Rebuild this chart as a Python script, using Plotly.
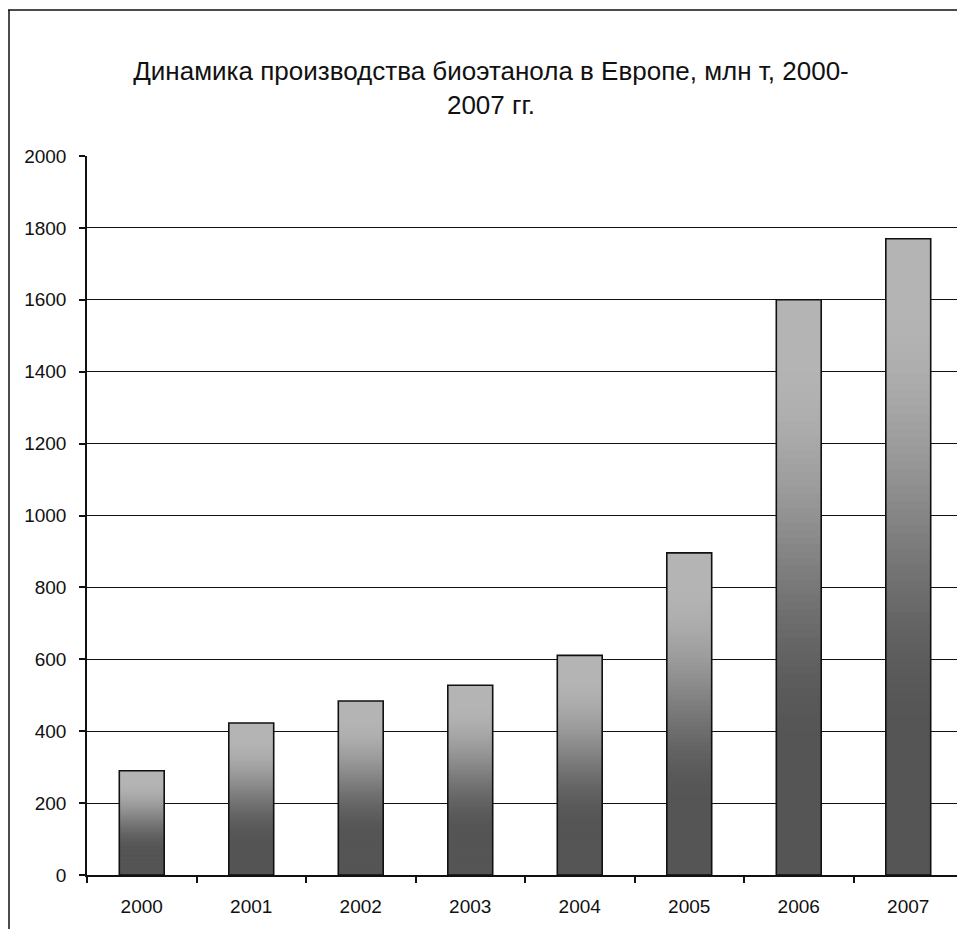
import plotly.graph_objects as go

years = ["2000", "2001", "2002", "2003", "2004", "2005", "2006", "2007"]
values = [290, 423, 484, 528, 611, 896, 1600, 1770]
y_ticks = [0, 200, 400, 600, 800, 1000, 1200, 1400, 1600, 1800, 2000]
title_text = "Динамика производства биоэтанола в Европе, млн т, 2000-<br>2007 гг."

N = 80
light = 180
dark = 85
BAR_W = 0.41

# page body has an 8px margin; figure is sized to fill the rest of the window
OFF = 8
W, H = 965 - OFF, 929 - OFF
PL, PR = 87 - OFF, 963 - OFF       # plot area left/right in figure px
PT, PB = 156 - OFF, 875 - OFF      # plot area top/bottom in figure px
PW, PH = PR - PL, PB - PT


def smooth(t):
    t = max(0.0, min(1.0, t))
    return t * t * (3 - 2 * t)


fig = go.Figure()
for i in range(N):
    f = 1 - (i + 0.5) / N          # fraction from top of bar
    t = smooth((f - 0.10) / (0.78 - 0.10))
    g = int(round(light + (dark - light) * t))
    col = f"rgb({g},{g},{g})"
    bases = [v * i / N for v in values]
    heights = [min(v / N * 2.0, v - b) for v, b in zip(values, bases)]
    fig.add_trace(go.Bar(
        x=years,
        y=heights,
        base=bases,
        width=BAR_W,
        marker=dict(color=col, line=dict(width=0)),
        showlegend=False,
        hoverinfo="skip",
    ))

fig.add_trace(go.Bar(
    x=years,
    y=values,
    base=[0] * len(values),
    width=BAR_W,
    marker=dict(color="rgba(0,0,0,0)", line=dict(color="#111111", width=1.6)),
    showlegend=False,
))


def px_x(x):
    return (x - OFF - PL) / PW


def px_y(y):
    return (PB - (y - OFF)) / PH


fig.update_layout(
    width=W,
    height=H,
    barmode="overlay",
    paper_bgcolor="white",
    plot_bgcolor="white",
    margin=dict(l=PL, r=W - PR, t=PT, b=H - PB, pad=0),
    font=dict(family="Liberation Sans, Arial, sans-serif", color="black"),
    title=dict(
        text=title_text,
        x=(491 - OFF) / W,
        xref="container",
        xanchor="center",
        y=(H - (80 - OFF)) / H,
        yref="container",
        yanchor="middle",
        font=dict(size=26, color="#111111", family="Liberation Sans, Arial, sans-serif"),
    ),
    xaxis=dict(
        type="category",
        range=[-0.5, 7.5],
        showline=True,
        linecolor="#111111",
        linewidth=1.5,
        ticks="outside",
        tickson="boundaries",
        ticklen=6,
        tickwidth=1.5,
        tickcolor="#111111",
        showgrid=False,
        tickfont=dict(size=19, color="#111111"),
        ticklabelstandoff=13,
    ),
    yaxis=dict(
        range=[0, 2000],
        tickvals=y_ticks,
        ticktext=[str(v) for v in y_ticks],
        showline=True,
        linecolor="#111111",
        linewidth=1.5,
        ticks="outside",
        ticklen=6,
        tickwidth=1.5,
        tickcolor="#111111",
        showgrid=True,
        gridcolor="#111111",
        gridwidth=1.4,
        zeroline=False,
        tickfont=dict(size=19, color="#111111"),
        ticklabelstandoff=9,
    ),
    shapes=[
        dict(type="line", xref="paper", yref="paper",
             x0=px_x(8), x1=px_x(965),
             y0=px_y(10), y1=px_y(10),
             line=dict(color="#111111", width=1.5)),
        dict(type="line", xref="paper", yref="paper",
             x0=px_x(9), x1=px_x(9),
             y0=px_y(10), y1=px_y(929),
             line=dict(color="#111111", width=1.5)),
    ],
)

fig.write_html("out.html")
